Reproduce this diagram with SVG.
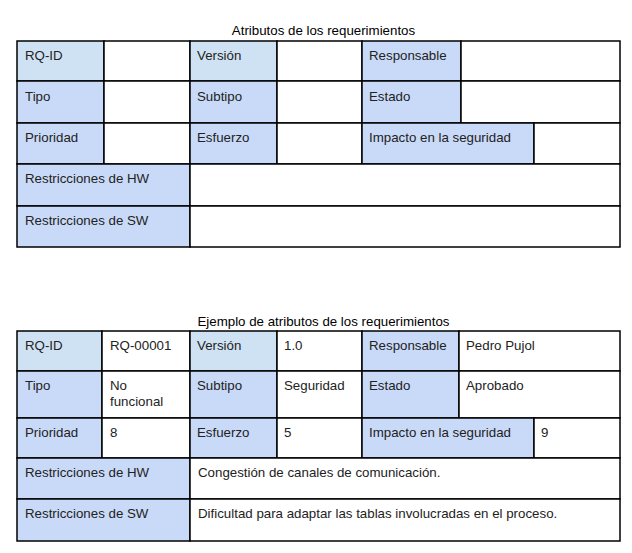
<svg xmlns="http://www.w3.org/2000/svg" width="632" height="553" viewBox="0 0 632 553">
<style>
  .c { fill: #ffffff; stroke: #000000; stroke-width: 1.5; }
  .h1 { fill: #cfe2f3; stroke: #000000; stroke-width: 1.5; }
  .h2 { fill: #c9daf8; stroke: #000000; stroke-width: 1.5; }
  text { font-family: "Liberation Sans", Arial, sans-serif; font-size: 13.3px; fill: #222222; }
  .title { fill: #000000; text-anchor: middle; }
</style>
<rect width="632" height="553" fill="#ffffff"/>

<g id="table1">
  <text class="title" x="323.5" y="35">Atributos de los requerimientos</text>
  <g id="t1-row1">
    <rect class="h1" x="17" y="41" width="87" height="40"/>
    <rect class="c" x="104" y="41" width="86" height="40"/>
    <rect class="h1" x="190" y="41" width="87" height="40"/>
    <rect class="c" x="277" y="41" width="85" height="40"/>
    <rect class="h2" x="362" y="41" width="99" height="40"/>
    <rect class="c" x="461" y="41" width="159" height="40"/>
    <text x="25" y="60">RQ-ID</text>
    <text x="197" y="60">Versión</text>
    <text x="369" y="60">Responsable</text>
  </g>
  <g id="t1-row2">
    <rect class="h2" x="17" y="81" width="87" height="42"/>
    <rect class="c" x="104" y="81" width="86" height="42"/>
    <rect class="h2" x="190" y="81" width="87" height="42"/>
    <rect class="c" x="277" y="81" width="85" height="42"/>
    <rect class="h2" x="362" y="81" width="99" height="42"/>
    <rect class="c" x="461" y="81" width="159" height="42"/>
    <text x="25" y="101">Tipo</text>
    <text x="197" y="101">Subtipo</text>
    <text x="369" y="101">Estado</text>
  </g>
  <g id="t1-row3">
    <rect class="h2" x="17" y="123" width="87" height="41"/>
    <rect class="c" x="104" y="123" width="86" height="41"/>
    <rect class="h2" x="190" y="123" width="87" height="41"/>
    <rect class="c" x="277" y="123" width="85" height="41"/>
    <rect class="h2" x="362" y="123" width="172" height="41"/>
    <rect class="c" x="534" y="123" width="86" height="41"/>
    <text x="25" y="142">Prioridad</text>
    <text x="197" y="142">Esfuerzo</text>
    <text x="369" y="142">Impacto en la seguridad</text>
  </g>
  <g id="t1-row4">
    <rect class="h2" x="17" y="164" width="173" height="42"/>
    <rect class="c" x="190" y="164" width="430" height="42"/>
    <text x="25" y="183">Restricciones de HW</text>
  </g>
  <g id="t1-row5">
    <rect class="h2" x="17" y="206" width="173" height="41"/>
    <rect class="c" x="190" y="206" width="430" height="41"/>
    <text x="25" y="225">Restricciones de SW</text>
  </g>
</g>

<g id="table2">
  <text class="title" x="323.5" y="326">Ejemplo de atributos de los requerimientos</text>
  <g id="t2-row1">
    <rect class="h1" x="17" y="331" width="85" height="40"/>
    <rect class="c" x="102" y="331" width="88" height="40"/>
    <rect class="h1" x="190" y="331" width="87" height="40"/>
    <rect class="c" x="277" y="331" width="85" height="40"/>
    <rect class="h2" x="362" y="331" width="97" height="40"/>
    <rect class="c" x="459" y="331" width="161" height="40"/>
    <text x="25" y="350">RQ-ID</text>
    <text x="110" y="350">RQ-00001</text>
    <text x="197" y="350">Versión</text>
    <text x="284" y="350">1.0</text>
    <text x="369" y="350">Responsable</text>
    <text x="466" y="350">Pedro Pujol</text>
  </g>
  <g id="t2-row2">
    <rect class="h2" x="17" y="371" width="85" height="47"/>
    <rect class="c" x="102" y="371" width="88" height="47"/>
    <rect class="h2" x="190" y="371" width="87" height="47"/>
    <rect class="c" x="277" y="371" width="85" height="47"/>
    <rect class="h2" x="362" y="371" width="97" height="47"/>
    <rect class="c" x="459" y="371" width="161" height="47"/>
    <text x="25" y="390">Tipo</text>
    <text x="110" y="390">No</text>
    <text x="110" y="406">funcional</text>
    <text x="197" y="390">Subtipo</text>
    <text x="284" y="390">Seguridad</text>
    <text x="369" y="390">Estado</text>
    <text x="466" y="390">Aprobado</text>
  </g>
  <g id="t2-row3">
    <rect class="h2" x="17" y="418" width="85" height="40"/>
    <rect class="c" x="102" y="418" width="88" height="40"/>
    <rect class="h2" x="190" y="418" width="87" height="40"/>
    <rect class="c" x="277" y="418" width="85" height="40"/>
    <rect class="h2" x="362" y="418" width="172" height="40"/>
    <rect class="c" x="534" y="418" width="86" height="40"/>
    <text x="25" y="437">Prioridad</text>
    <text x="110" y="437">8</text>
    <text x="197" y="437">Esfuerzo</text>
    <text x="284" y="437">5</text>
    <text x="369" y="437">Impacto en la seguridad</text>
    <text x="541" y="437">9</text>
  </g>
  <g id="t2-row4">
    <rect class="h2" x="17" y="458" width="173" height="41"/>
    <rect class="c" x="190" y="458" width="430" height="41"/>
    <text x="25" y="477">Restricciones de HW</text>
    <text x="198" y="477">Congestión de canales de comunicación.</text>
  </g>
  <g id="t2-row5">
    <rect class="h2" x="17" y="499" width="173" height="42"/>
    <rect class="c" x="190" y="499" width="430" height="42"/>
    <text x="25" y="518">Restricciones de SW</text>
    <text x="198" y="518">Dificultad para adaptar las tablas involucradas en el proceso.</text>
  </g>
</g>
</svg>
